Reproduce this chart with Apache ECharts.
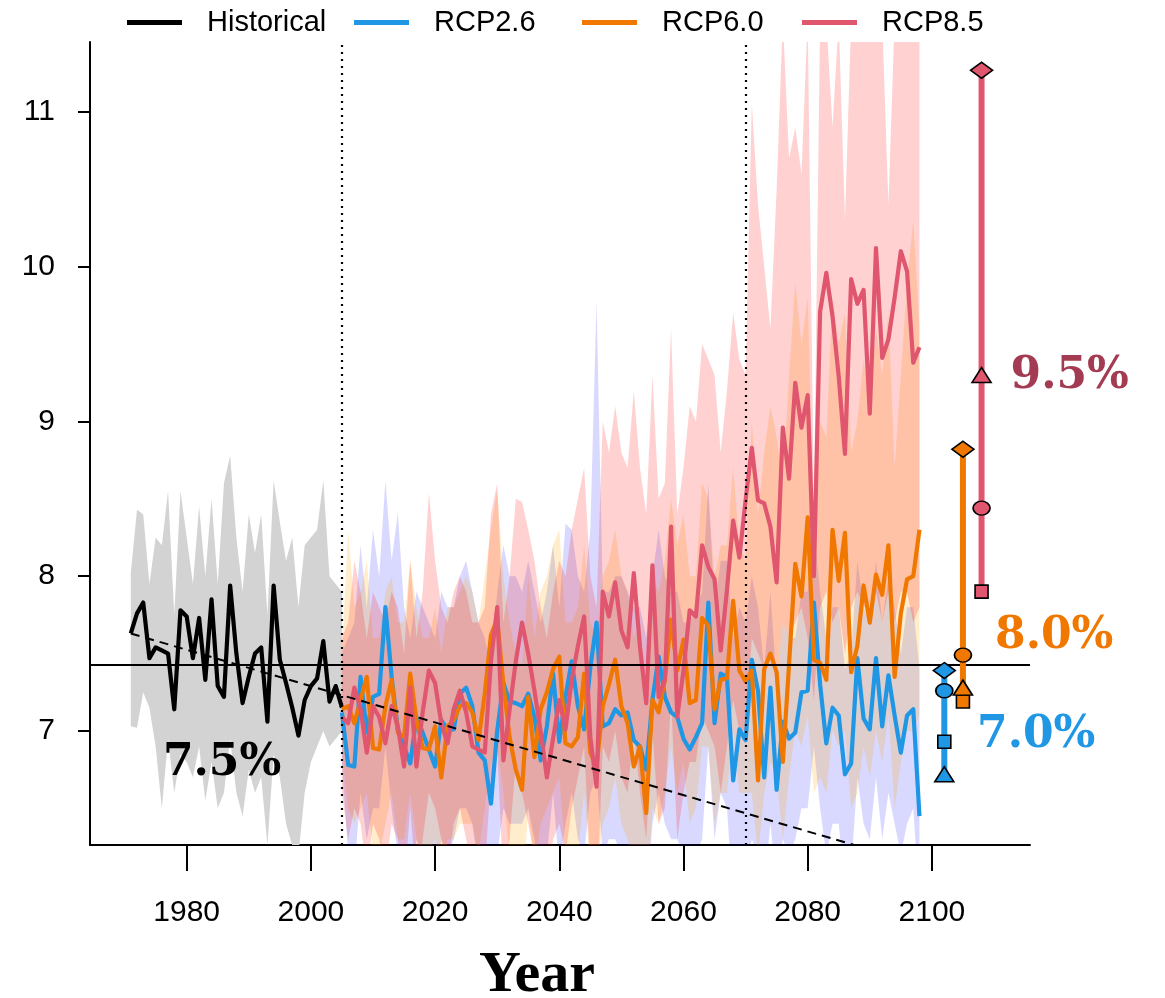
<!DOCTYPE html>
<html>
<head>
<meta charset="utf-8">
<script src="https://cdn.jsdelivr.net/npm/echarts@6/dist/echarts.min.js"></script>
<style>html,body{margin:0;padding:0;background:#fff}#c{width:1165px;height:998px}</style>
</head>
<body>
<div id="c"></div>
<script>
// ---------------- DATA ----------------
const histStart = 1971;
const projStart = 2005;

const historical = [7.63, 7.76, 7.83, 7.47, 7.54, 7.52, 7.50, 7.14, 7.78, 7.74,
  7.47, 7.73, 7.33, 7.85, 7.29, 7.22, 7.94, 7.50, 7.18, 7.35,
  7.50, 7.54, 7.06, 7.94, 7.46, 7.31, 7.15, 6.97, 7.20, 7.29,
  7.34, 7.58, 7.19, 7.29, 7.15];
const histUpper = [8.02, 8.43, 8.40, 7.95, 8.25, 8.20, 8.55, 7.75, 8.55, 8.25,
  7.95, 8.45, 8.00, 8.50, 7.95, 8.60, 8.78, 8.25, 7.90, 8.40,
  8.15, 8.40, 7.75, 8.62, 8.35, 8.10, 8.25, 7.80, 8.20, 8.25,
  8.30, 8.62, 8.00, 7.95, 7.90];
const histLower = [7.03, 7.02, 7.25, 7.15, 6.90, 6.50, 6.95, 6.60, 6.85, 6.80,
  6.70, 6.90, 6.55, 6.80, 6.50, 6.60, 6.95, 6.60, 6.45, 6.75,
  6.60, 6.70, 6.26, 6.85, 6.70, 6.40, 6.26, 6.20, 6.60, 6.80,
  6.90, 7.00, 6.90, 6.95, 7.00];

const rcp26 = [7.12, 6.78, 6.77, 7.35, 6.99, 7.22, 7.24, 7.80, 7.35, 7.01,
  6.90, 6.79, 7.09, 6.99, 6.88, 6.77, 7.07, 7.01, 7.01, 7.24,
  7.28, 7.16, 6.86, 6.81, 6.53, 7.00, 7.31, 7.19, 7.18, 7.16,
  7.24, 7.09, 6.81, 7.03, 7.37, 6.93, 7.22, 7.45, 7.16, 7.01,
  7.41, 7.70, 7.03, 7.05, 7.14, 7.10, 7.12, 6.94, 6.90, 6.75,
  7.20, 7.48, 7.22, 7.12, 7.09, 6.95, 6.88, 6.96, 7.05, 7.83,
  7.05, 7.37, 7.35, 6.68, 7.01, 6.94, 7.46, 7.26, 6.70, 7.28,
  6.62, 7.06, 6.95, 6.99, 7.25, 7.26, 7.83, 7.30, 6.92, 7.15,
  7.10, 6.72, 6.79, 7.47, 7.08, 7.01, 7.47, 7.03, 7.36, 7.10,
  6.86, 7.10, 7.14, 6.45];
const rcp26Upper = [7.5, 7.6, 7.7, 8.2, 7.8, 8.3, 8.0, 8.62, 8.1, 8.41,
  7.8, 7.6, 7.9, 7.8, 7.7, 7.6, 7.9, 7.8, 7.8, 8.0,
  8.1, 7.9, 7.7, 7.6, 7.4, 7.9, 8.2, 8.0, 8.0, 7.9,
  8.1, 7.9, 7.7, 7.9, 8.2, 7.8, 8.34, 8.3, 8.0, 7.9,
  8.3, 9.78, 7.9, 7.9, 8.0, 8.0, 7.9, 7.8, 7.8, 7.6,
  8.0, 8.3, 8.0, 7.9, 7.9, 7.7, 7.7, 7.8, 7.9, 8.6,
  7.8, 8.1, 8.1, 7.6, 7.8, 7.7, 8.0, 7.8, 7.4, 7.9,
  7.3, 7.7, 7.6, 7.6, 7.9, 7.9, 8.3, 7.9, 7.6, 7.8,
  7.8, 7.4, 7.5, 8.1, 7.8, 7.7, 8.1, 7.7, 8.0, 7.8,
  7.5, 7.8, 7.8, 7.4];
const rcp26Lower = [6.8, 6.2, 6.1, 6.6, 6.3, 6.5, 6.5, 6.9, 6.5, 6.2,
  6.1, 6.0, 6.3, 6.2, 6.1, 6.0, 6.3, 6.2, 6.3, 6.5,
  6.5, 6.4, 6.1, 6.0, 5.8, 6.2, 6.5, 6.4, 6.4, 6.4,
  6.5, 6.3, 6.0, 6.2, 6.6, 6.1, 6.4, 6.6, 6.3, 6.2,
  6.6, 6.7, 6.2, 6.3, 6.3, 6.2, 6.2, 6.1, 6.1, 5.9,
  6.4, 6.6, 6.4, 6.3, 6.3, 6.2, 6.1, 6.2, 6.3, 6.9,
  6.3, 6.6, 6.5, 5.9, 6.2, 6.1, 6.3, 6.2, 6.0, 6.4,
  6.0, 6.3, 6.2, 6.3, 6.5, 6.5, 6.9, 6.5, 6.2, 6.4,
  6.4, 6.0, 6.1, 6.7, 6.4, 6.3, 6.7, 6.3, 6.6, 6.4,
  6.2, 6.4, 6.5, 5.9];

const rcp60 = [7.14, 7.16, 7.05, 7.20, 7.35, 6.89, 6.88, 7.16, 7.33, 6.99,
  6.96, 7.37, 7.07, 6.89, 6.88, 7.03, 6.70, 7.03, 7.07, 7.16,
  7.18, 7.12, 6.94, 7.24, 7.62, 7.72, 7.30, 6.96, 6.75, 6.62,
  7.22, 6.83, 7.14, 7.25, 7.40, 7.48, 6.92, 6.90, 6.96, 7.37,
  6.86, 6.77, 7.16, 7.30, 7.46, 7.16, 7.05, 6.77, 6.90, 6.47,
  7.20, 7.12, 7.33, 7.72, 7.39, 7.59, 7.18, 7.20, 7.73, 7.68,
  7.14, 7.33, 7.34, 7.84, 7.39, 7.32, 7.39, 6.68, 7.40, 7.50,
  7.38, 6.80, 7.43, 8.08, 7.87, 8.38, 7.46, 7.44, 7.33, 8.30,
  7.97, 8.28, 7.38, 7.55, 7.94, 7.70, 8.01, 7.88, 8.20, 7.35,
  7.76, 7.98, 8.00, 8.30];
const rcp60Upper = [7.5, 8.3, 7.8, 7.9, 8.1, 7.6, 7.6, 7.9, 8.0, 7.7,
  7.7, 8.1, 7.8, 7.6, 7.6, 7.8, 7.5, 7.8, 7.8, 7.9,
  8.0, 7.9, 7.7, 8.0, 8.3, 8.56, 8.0, 7.7, 7.5, 7.4,
  8.0, 7.6, 7.9, 8.0, 8.2, 8.3, 7.7, 7.7, 7.8, 8.2,
  7.7, 7.6, 8.0, 8.1, 8.3, 8.0, 7.9, 7.6, 7.7, 7.3,
  8.0, 7.9, 8.1, 8.5, 8.2, 8.4, 8.0, 8.0, 8.6, 8.5,
  8.0, 8.2, 8.2, 8.7, 8.2, 8.1, 9.0, 8.4, 8.8, 9.1,
  8.9, 8.6, 9.3, 9.9, 9.5, 9.8, 8.3, 9.0, 8.9, 9.8,
  9.5, 9.7, 8.8, 9.0, 9.4, 9.1, 9.6, 9.3, 9.7, 8.7,
  9.3, 9.9, 10.3, 9.6];
const rcp60Lower = [6.9, 6.5, 6.4, 6.5, 6.6, 6.2, 6.2, 6.4, 6.6, 6.3,
  6.3, 6.6, 6.3, 6.2, 6.2, 6.3, 6.0, 6.3, 6.3, 6.4,
  6.4, 6.4, 6.2, 6.5, 6.8, 6.9, 6.6, 6.2, 6.0, 5.9,
  6.5, 6.1, 6.4, 6.5, 6.6, 6.7, 6.2, 6.2, 6.2, 6.6,
  6.1, 6.1, 6.4, 6.5, 6.7, 6.4, 6.3, 6.1, 6.2, 5.8,
  6.5, 6.4, 6.6, 6.9, 6.6, 6.8, 6.4, 6.5, 6.9, 6.9,
  6.4, 6.6, 6.6, 7.0, 6.6, 6.6, 6.6, 6.2, 6.6, 6.8,
  6.7, 6.3, 6.7, 7.0, 6.9, 7.1, 6.6, 6.7, 6.6, 7.0,
  6.9, 7.0, 6.5, 6.6, 6.9, 6.7, 7.0, 6.8, 7.1, 6.5,
  6.8, 7.0, 7.0, 7.1];

const rcp85 = [7.09, 7.05, 7.28, 7.14, 6.86, 7.16, 7.09, 6.92, 7.16, 7.03,
  6.77, 7.28, 6.77, 7.12, 7.39, 7.31, 7.05, 6.92, 7.14, 7.26,
  7.12, 6.90, 6.88, 6.86, 7.45, 7.80, 6.81, 7.14, 7.45, 7.70,
  7.50, 7.26, 7.00, 6.70, 6.95, 7.20, 7.01, 7.33, 7.55, 7.74,
  6.96, 6.64, 7.90, 7.74, 7.96, 7.65, 7.54, 8.02, 7.54, 7.18,
  8.07, 7.22, 7.33, 8.32, 7.09, 7.39, 7.78, 7.74, 8.20, 8.06,
  7.98, 7.52, 7.91, 8.36, 8.12, 8.49, 8.83, 8.49, 8.47, 8.32,
  7.96, 8.96, 8.63, 9.25, 8.96, 9.17, 8.00, 9.71, 9.96, 9.68,
  9.29, 8.79, 9.92, 9.76, 9.85, 9.05, 10.12, 9.41, 9.53, 9.80,
  10.10, 9.97, 9.38, 9.48];
const rcp85Upper = [7.6, 7.7, 8.1, 7.9, 7.6, 7.9, 7.8, 7.7, 7.9, 7.8,
  7.5, 8.1, 7.6, 7.9, 8.54, 8.1, 7.8, 7.7, 7.9, 8.0,
  7.9, 7.7, 7.7, 7.8, 8.4, 8.6, 7.7, 8.0, 8.5, 8.48,
  8.3, 8.1, 7.8, 7.6, 7.9, 8.1, 8.0, 8.3, 8.5, 8.7,
  8.0, 7.8, 9.0, 8.8, 9.1, 8.8, 8.7, 9.2, 8.7, 8.4,
  9.3, 8.5, 8.6, 9.6, 8.4, 8.7, 9.1, 9.0, 9.5, 9.4,
  9.3, 8.8, 9.2, 9.7, 9.4, 9.3, 11.06, 10.4, 10.0, 9.6,
  10.5, 11.6, 10.7, 10.9, 10.6, 11.6, 8.45, 11.6, 11.6, 10.9,
  11.6, 10.3, 11.6, 11.6, 11.6, 11.6, 11.6, 11.6, 10.4, 11.6,
  11.6, 11.6, 11.6, 11.6];
const rcp85Lower = [6.6, 6.3, 6.5, 6.4, 6.1, 6.4, 6.3, 6.1, 6.4, 6.3,
  6.0, 6.5, 6.0, 6.3, 6.6, 6.5, 6.3, 6.1, 6.4, 6.5,
  6.3, 6.1, 6.1, 6.1, 6.7, 6.9, 6.0, 6.3, 6.8, 6.6,
  6.4, 6.2, 5.9, 6.0, 6.3, 6.4, 6.2, 6.5, 6.7, 6.9,
  6.1, 5.8, 6.9, 6.8, 7.0, 6.7, 6.6, 7.0, 6.6, 6.3,
  7.0, 6.4, 6.5, 7.2, 6.3, 6.6, 6.8, 6.8, 7.1, 7.0,
  6.9, 6.6, 6.9, 7.2, 7.0, 7.0, 7.6, 7.5, 7.4, 7.5,
  7.3, 7.7, 7.6, 7.7, 7.8, 7.6, 7.2, 7.8, 7.9, 7.7,
  7.8, 7.5, 7.8, 7.9, 7.8, 7.8, 7.9, 7.7, 7.9, 7.7,
  7.9, 7.9, 7.7, 7.8];

// historical trend (two end points of fitted line) and reference level
const trendLine = [[1971, 7.63], [2092, 6.21]];
const referenceLevel = 7.43;
const periodMarks = [2005, 2070];

// end-of-century summary points: order = diamond, square, circle, triangle
const endShapes = ['diamond', 'rect', 'circle', 'triangle'];
const rcp26End = [7.39, 6.93, 7.26, 6.72];
const rcp60End = [8.82, 7.19, 7.49, 7.28];
const rcp85End = [11.27, 7.90, 8.44, 9.30];

const seriesNames = ['Historical', 'RCP2.6', 'RCP6.0', 'RCP8.5'];
const percentTexts = ['7.5%', '9.5%', '8.0%', '7.0%'];
const xTicks = [1980, 2000, 2020, 2040, 2060, 2080, 2100];
const yTicks = [7, 8, 9, 10, 11];

// ---------------- LAYOUT / STYLE ----------------
const X_MIN = 1964.43, X_MAX = 2115.8, Y_MIN = 6.263, Y_MAX = 11.452;
const COL = { hist: '#000000', b: '#1f97e5', o: '#f07800', r: '#e0566f', rText: '#a33b52' };
const legendLeft = [122, 349, 577, 797];
const endX = { b: 2102, o: 2105, r: 2108 };
const annoPos = [[1985.7, 6.79, '#000000'], [2122.2, 9.29, COL.rText], [2119.7, 7.61, COL.o], [2116.8, 6.97, COL.b]];
const shapeSize = { diamond: [22, 16], rect: [13, 13], circle: [17, 14], triangle: [19, 15] };

const histYears = historical.map((_, i) => histStart + i);
const projYears = rcp26.map((_, i) => projStart + i);
const pairs = (xs, ys) => xs.map((x, i) => [x, ys[i]]);

function band(years, lo, hi, color, z) {
  return {
    type: 'custom', clip: true, silent: true, z: z,
    data: years.map((y, i) => [y, lo[i], hi[i]]),
    encode: { x: 0, y: [1, 2] },
    renderItem: function (params, api) {
      if (params.dataIndex !== 0) return null;
      const pts = [];
      for (let i = 0; i < years.length; i++) pts.push(api.coord([years[i], hi[i]]));
      for (let i = years.length - 1; i >= 0; i--) pts.push(api.coord([years[i], lo[i]]));
      return { type: 'polygon', shape: { points: pts }, style: { fill: color } };
    }
  };
}
function line(name, xs, ys, color, z) {
  return { type: 'line', name: name, data: pairs(xs, ys), symbol: 'none', z: z, silent: true,
    lineStyle: { color: color, width: 4.2, join: 'round' }, itemStyle: { color: color } };
}

const series = [
  band(histYears, histLower, histUpper, '#d3d3d3', 1),
  band(projYears, rcp26Lower, rcp26Upper, 'rgba(0,0,255,0.15)', 1),
  band(projYears, rcp60Lower, rcp60Upper, 'rgba(255,165,0,0.2)', 1),
  band(projYears, rcp85Lower, rcp85Upper, 'rgba(255,0,0,0.18)', 1),
  line(seriesNames[0], histYears, historical, COL.hist, 3),
  line(seriesNames[1], projYears, rcp26, COL.b, 3),
  line(seriesNames[2], projYears, rcp60, COL.o, 3),
  line(seriesNames[3], projYears, rcp85, COL.r, 3),
  {
    type: 'line', data: trendLine, symbol: 'none', z: 6, silent: true,
    lineStyle: { color: '#000', width: 2, type: [9, 6] },
    markLine: {
      silent: true, symbol: 'none', label: { show: false },
      data: [
        { yAxis: referenceLevel, lineStyle: { color: '#000', width: 2.2, type: 'solid' } },
        { xAxis: periodMarks[0], lineStyle: { color: '#000', width: 2.2, type: [2, 5] } },
        { xAxis: periodMarks[1], lineStyle: { color: '#000', width: 2.2, type: [2, 5] } }
      ]
    }
  }
];
// summary bars
[[endX.b, rcp26End, COL.b], [endX.o, rcp60End, COL.o], [endX.r, rcp85End, COL.r]].forEach(function (s) {
  series.push({ type: 'line', data: [[s[0], Math.min.apply(null, s[1])], [s[0], Math.max.apply(null, s[1])]],
    symbol: 'none', clip: false, z: 7, silent: true, lineStyle: { color: s[2], width: 6, cap: 'butt' } });
});
// summary markers
endShapes.forEach(function (shape, k) {
  series.push({
    type: 'scatter', clip: false, z: 8 + k, silent: true, symbol: shape, symbolSize: shapeSize[shape],
    data: [
      { value: [endX.b, rcp26End[k]], itemStyle: { color: COL.b } },
      { value: [endX.o, rcp60End[k]], itemStyle: { color: COL.o } },
      { value: [endX.r, rcp85End[k]], itemStyle: { color: COL.r } }
    ],
    itemStyle: { borderColor: '#000', borderWidth: 1.6, opacity: 1 }
  });
});
// percentage annotations
series.push({
  type: 'scatter', clip: false, z: 20, silent: true, symbolSize: 1,
  itemStyle: { color: 'rgba(0,0,0,0)', opacity: 1 },
  data: percentTexts.map((t, i) => ({
    value: [annoPos[i][0], annoPos[i][1]], name: t,
    label: { show: true, position: 'inside', formatter: t, color: annoPos[i][2], opacity: 1,
      fontFamily: 'DejaVu Serif', fontWeight: 'bold', fontSize: 44 }
  }))
});

const legends = seriesNames.map((n, i) => ({
  data: [n], left: legendLeft[i], top: 3, icon: 'rect', itemWidth: 55, itemHeight: 5,
  selectedMode: false,
  textStyle: { fontFamily: 'Liberation Sans', fontSize: 29, color: '#000', padding: [0, 0, 0, 20] }
}));

const chart = echarts.init(document.getElementById('c'), null, { renderer: 'canvas' });
chart.setOption({
  animation: false,
  backgroundColor: '#ffffff',
  grid: { left: 90, right: 135, top: 42, bottom: 153, containLabel: false, outerBoundsMode: 'none' },
  legend: legends,
  xAxis: {
    type: 'value', min: X_MIN, max: X_MAX,
    axisLine: { show: true, onZero: false, lineStyle: { color: '#000', width: 2 } },
    axisTick: { show: true, customValues: xTicks, length: 26, lineStyle: { color: '#000', width: 2 } },
    axisLabel: { customValues: xTicks, formatter: v => String(v), fontFamily: 'Liberation Sans', fontSize: 30, color: '#000', margin: 53 },
    splitLine: { show: false },
    name: 'Year', nameLocation: 'middle', nameGap: 102,
    nameTextStyle: { fontFamily: 'Liberation Serif', fontWeight: 'bold', fontSize: 58, color: '#000', padding: [0, 46, 0, 0] }
  },
  yAxis: {
    type: 'value', min: Y_MIN, max: Y_MAX,
    axisLine: { show: true, onZero: false, lineStyle: { color: '#000', width: 2 } },
    axisTick: { show: true, customValues: yTicks, length: 12, lineStyle: { color: '#000', width: 2 } },
    axisLabel: { customValues: yTicks, formatter: v => String(v), fontFamily: 'Liberation Sans', fontSize: 30, color: '#000', margin: 35 },
    splitLine: { show: false }
  },
  series: series
});
</script>
</body>
</html>
